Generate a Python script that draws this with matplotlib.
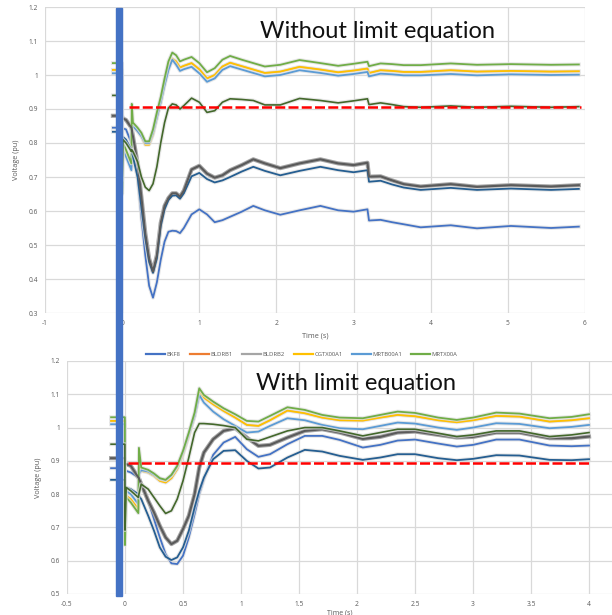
import numpy as np
import matplotlib
matplotlib.use("Agg")
import matplotlib.pyplot as plt
import matplotlib.patheffects as pe
from matplotlib.patches import Rectangle
from matplotlib.lines import Line2D
from matplotlib.ticker import FuncFormatter, MultipleLocator

plt.rcParams['font.family'] = ['Open Sans', 'DejaVu Sans']

# ---- top chart: without limit equation ----
t_top = [-0.12, -0.001, 0.0, 0.01, 0.05, 0.12, 0.125, 0.14, 0.2, 0.25, 0.3, 0.35, 0.4, 0.45,
         0.5, 0.55, 0.6, 0.65, 0.7, 0.75, 0.8, 0.9, 1.0, 1.1, 1.2, 1.3, 1.4, 1.55, 1.7, 1.85,
         2.05, 2.3, 2.57, 2.8, 3.0, 3.18, 3.2, 3.35, 3.5, 3.65, 3.87, 4.26, 4.6, 5.04, 5.56, 5.92]

top_mrtx00a = [1.035, 1.035, 0.65, 0.80, 0.78, 0.74, 0.915, 0.86, 0.845, 0.83, 0.805, 0.805, 0.84, 0.89,
               0.935, 0.99, 1.04, 1.066, 1.058, 1.04, 1.045, 1.053, 1.035, 1.008, 1.02, 1.045, 1.056, 1.045, 1.035, 1.025,
               1.03, 1.044, 1.035, 1.027, 1.033, 1.039, 1.026, 1.034, 1.032, 1.029, 1.029, 1.034, 1.030, 1.032, 1.030, 1.031]
top_cgtx00a1 = [1.015, 1.015, 0.75, 0.79, 0.77, 0.73, 0.85, 0.85, 0.835, 0.82, 0.795, 0.795, 0.825, 0.875,
                0.92, 0.975, 1.02, 1.048, 1.04, 1.022, 1.027, 1.035, 1.017, 0.99, 1.0, 1.025, 1.036, 1.026, 1.016, 1.006,
                1.01, 1.024, 1.016, 1.008, 1.013, 1.019, 1.006, 1.014, 1.012, 1.009, 1.009, 1.014, 1.010, 1.012, 1.010, 1.011]
top_mrtb00a1 = [1.005, 1.005, 0.78, 0.78, 0.76, 0.72, 0.845, 0.85, 0.835, 0.82, 0.80, 0.80, 0.83, 0.875,
                0.92, 0.97, 1.015, 1.045, 1.03, 1.012, 1.017, 1.024, 1.005, 0.98, 0.99, 1.015, 1.026, 1.016, 1.006, 0.996,
                1.0, 1.014, 1.006, 0.998, 1.003, 1.009, 0.996, 1.004, 1.002, 0.999, 0.999, 1.003, 0.999, 1.002, 1.0, 1.001]
top_darkgreen = [0.94, 0.94, 0.69, 0.81, 0.80, 0.775, 0.78, 0.775, 0.745, 0.70, 0.67, 0.66, 0.68, 0.73,
                 0.80, 0.86, 0.903, 0.915, 0.912, 0.90, 0.91, 0.932, 0.92, 0.89, 0.895, 0.92, 0.93, 0.928, 0.925, 0.912,
                 0.912, 0.931, 0.925, 0.918, 0.924, 0.93, 0.913, 0.918, 0.913, 0.907, 0.905, 0.909, 0.905, 0.908, 0.905, 0.907]
top_darkgray = [0.88, 0.88, 0.875, 0.872, 0.868, 0.845, 0.84, 0.82, 0.741, 0.64, 0.535, 0.46, 0.422, 0.47,
                0.565, 0.615, 0.638, 0.652, 0.652, 0.642, 0.66, 0.722, 0.733, 0.71, 0.698, 0.705, 0.72, 0.735, 0.752, 0.74,
                0.726, 0.74, 0.752, 0.74, 0.735, 0.742, 0.701, 0.702, 0.69, 0.679, 0.672, 0.679, 0.671, 0.676, 0.672, 0.676]
top_darkblue = [0.833, 0.833, 0.82, 0.818, 0.81, 0.78, 0.775, 0.76, 0.70, 0.61, 0.52, 0.45, 0.418, 0.46,
                0.555, 0.605, 0.632, 0.645, 0.646, 0.636, 0.652, 0.702, 0.712, 0.694, 0.684, 0.69, 0.70, 0.716, 0.73, 0.718,
                0.705, 0.718, 0.73, 0.72, 0.714, 0.72, 0.686, 0.689, 0.678, 0.669, 0.662, 0.668, 0.662, 0.666, 0.662, 0.665]
top_bkf8 = [0.845, 0.845, 0.845, 0.843, 0.84, 0.80, 0.795, 0.775, 0.70, 0.58, 0.47, 0.38, 0.345, 0.39,
            0.456, 0.51, 0.539, 0.542, 0.541, 0.535, 0.55, 0.59, 0.605, 0.59, 0.567, 0.573, 0.583, 0.598, 0.615, 0.602,
            0.589, 0.602, 0.615, 0.602, 0.598, 0.605, 0.572, 0.574, 0.567, 0.561, 0.552, 0.558, 0.549, 0.556, 0.550, 0.554]
top_limit_t = [0.09, 5.95]
top_limit_v = [0.905, 0.905]

# ---- bottom chart: with limit equation ----
t_bot = [-0.12, -0.001, 0.0, 0.01, 0.05, 0.115, 0.12, 0.14, 0.2, 0.25, 0.3, 0.35, 0.4, 0.45, 0.5,
         0.55, 0.6, 0.64, 0.68, 0.76, 0.85, 0.95, 1.05, 1.15, 1.25, 1.4, 1.55, 1.7, 1.85, 2.05,
         2.2, 2.35, 2.5, 2.7, 2.86, 3.0, 3.2, 3.4, 3.66, 3.85, 4.0]

bot_mrtx00a = [1.031, 1.031, 0.647, 0.79, 0.775, 0.743, 0.939, 0.88, 0.873, 0.862, 0.848, 0.843, 0.858, 0.885, 0.93,
               0.985, 1.045, 1.118, 1.098, 1.078, 1.058, 1.04, 1.02, 1.018, 1.035, 1.061, 1.053, 1.038, 1.03, 1.028,
               1.038, 1.048, 1.044, 1.03, 1.023, 1.03, 1.045, 1.042, 1.028, 1.032, 1.04]
bot_cgtx00a1 = [1.02, 1.02, 0.80, 0.795, 0.785, 0.755, 0.88, 0.87, 0.865, 0.855, 0.84, 0.835, 0.848, 0.875, 0.92,
                0.975, 1.035, 1.105, 1.09, 1.07, 1.05, 1.03, 1.008, 1.005, 1.022, 1.051, 1.043, 1.03, 1.022, 1.021,
                1.03, 1.038, 1.034, 1.022, 1.016, 1.022, 1.035, 1.033, 1.018, 1.022, 1.028]
bot_mrtb00a1 = [1.01, 1.01, 0.80, 0.81, 0.80, 0.77, 0.86, 0.872, 0.868, 0.858, 0.846, 0.842, 0.856, 0.882, 0.925,
                0.98, 1.035, 1.098, 1.075, 1.048, 1.025, 1.005, 0.985, 0.988, 1.005, 1.028, 1.022, 1.008, 0.998, 0.995,
                1.005, 1.015, 1.012, 1.0, 0.993, 1.0, 1.013, 1.011, 0.998, 1.002, 1.008]
bot_darkgreen = [0.95, 0.95, 0.692, 0.82, 0.81, 0.79, 0.80, 0.83, 0.815, 0.79, 0.765, 0.742, 0.75, 0.785, 0.84,
                 0.91, 0.985, 1.012, 1.012, 1.01, 1.006, 1.0, 0.965, 0.96, 0.972, 0.99, 1.0, 1.0, 0.99, 0.975,
                 0.985, 0.995, 0.995, 0.983, 0.973, 0.978, 0.99, 0.99, 0.973, 0.978, 0.985]
bot_darkgray = [0.908, 0.908, 0.89, 0.89, 0.885, 0.85, 0.848, 0.83, 0.78, 0.745, 0.705, 0.67, 0.65, 0.66, 0.695,
                0.735, 0.80, 0.88, 0.925, 0.965, 0.99, 0.998, 0.97, 0.945, 0.948, 0.97, 0.99, 0.995, 0.985, 0.966,
                0.972, 0.985, 0.988, 0.978, 0.97, 0.972, 0.985, 0.985, 0.968, 0.968, 0.973]
bot_bkf8 = [0.878, 0.878, 0.87, 0.87, 0.865, 0.85, 0.848, 0.83, 0.78, 0.725, 0.67, 0.62, 0.592, 0.59, 0.615,
            0.67, 0.74, 0.80, 0.845, 0.918, 0.955, 0.972, 0.935, 0.912, 0.92, 0.95, 0.975, 0.975, 0.963, 0.94,
            0.948, 0.961, 0.964, 0.952, 0.943, 0.948, 0.964, 0.964, 0.946, 0.944, 0.946]
bot_steel = [0.843, 0.843, 0.82, 0.82, 0.815, 0.80, 0.795, 0.785, 0.735, 0.69, 0.64, 0.612, 0.602, 0.61, 0.64,
             0.69, 0.76, 0.81, 0.85, 0.905, 0.93, 0.932, 0.9, 0.877, 0.88, 0.91, 0.933, 0.928, 0.915, 0.903,
             0.91, 0.92, 0.92, 0.908, 0.902, 0.906, 0.917, 0.916, 0.903, 0.902, 0.905]
bot_limit_t = [0.03, 4.0]
bot_limit_v = [0.894, 0.894]

names = ["BKF8", "BLDRB1", "BLDRB2", "CGTX00A1", "MRTB00A1", "MRTX00A"]
colors = ["#4472C4", "#ED7D31", "#A5A5A5", "#FFC000", "#5B9BD5", "#70AD47"]
grid_c = "#D9D9D9"
text_c = "#595959"

halo = [pe.Stroke(linewidth=2.8, foreground="#dddddd", alpha=0.7), pe.Normal()]


def fmt(v, pos):
    return "%g" % round(v, 2)


def style(ax, xmin, xmax, xstep, ymin, ymax):
    ax.set_xlim(xmin, xmax)
    ax.set_ylim(ymin, ymax)
    ax.xaxis.set_major_locator(MultipleLocator(xstep))
    ax.yaxis.set_major_locator(MultipleLocator(0.1))
    ax.xaxis.set_major_formatter(FuncFormatter(fmt))
    ax.yaxis.set_major_formatter(FuncFormatter(fmt))
    ax.grid(True, color=grid_c, lw=0.9)
    ax.set_axisbelow(True)
    for s in ax.spines.values():
        s.set_visible(False)
    ax.tick_params(length=0, labelsize=4.8, colors=text_c, pad=5)
    ax.set_xlabel("Time (s)", fontsize=5.2, color=text_c, labelpad=4)
    ax.set_ylabel("Voltage (pu)", fontsize=5.2, color=text_c, labelpad=6)


def draw(ax, t, bkf8, cgtx, mrtb, mrtx, dgreen, dgray, dblue, lim_t, lim_v):
    ax.plot(t, bkf8, color=colors[0], lw=1.3, path_effects=halo)
    ax.plot(t, cgtx, color=colors[1], lw=1.3)  # BLDRB1 lies under CGTX00A1
    ax.plot(t, dgray, color=colors[2], lw=3.0)
    ax.plot(t, cgtx, color=colors[3], lw=1.3, path_effects=halo)
    ax.plot(t, mrtb, color=colors[4], lw=1.3, path_effects=halo)
    ax.plot(t, mrtx, color=colors[5], lw=1.3, path_effects=halo)
    ax.plot(t, dblue, color="#255E91", lw=1.3, path_effects=halo)
    ax.plot(t, dgray, color="#5A5A5A", lw=1.5)
    ax.plot(t, dgreen, color="#43682B", lw=1.2, path_effects=halo)
    ax.plot(lim_t, lim_v, color="#FF0000", lw=1.8, dashes=(4, 1.3))


fig = plt.figure(figsize=(6.12, 6.15), dpi=100)

ax1 = fig.add_axes([45 / 612, 1 - 313 / 615, 540 / 612, 306 / 615])
style(ax1, -1, 6, 1, 0.3, 1.2)
draw(ax1, t_top, top_bkf8, top_cgtx00a1, top_mrtb00a1, top_mrtx00a,
     top_darkgreen, top_darkgray, top_darkblue, top_limit_t, top_limit_v)
fig.text(378 / 612, 1 - 32 / 615, "Without limit equation", family=["Lato", "DejaVu Sans"],
         ha="center", va="center", fontsize=17, color="#111111")

ax2 = fig.add_axes([67 / 612, 1 - 594 / 615, 545 / 612, 233 / 615])
style(ax2, -0.5, 4.198, 0.5, 0.5, 1.2)
ax2.set_xticks(np.arange(-0.5, 4.01, 0.5))
draw(ax2, t_bot, bot_bkf8, bot_cgtx00a1, bot_mrtb00a1, bot_mrtx00a,
     bot_darkgreen, bot_darkgray, bot_steel, bot_limit_t, bot_limit_v)
fig.text(356 / 612, 1 - 383 / 615, "With limit equation", family=["Lato", "DejaVu Sans"],
         ha="center", va="center", fontsize=17, color="#111111")
ax2.set_xlabel("Time (s)", fontsize=5, color=text_c, labelpad=1)

# legend of the top chart (only the first six series are listed)
handles = [Line2D([], [], color=c, lw=1.6) for c in colors]
fig.legend(handles, names, loc="center", bbox_to_anchor=(302 / 612, 1 - 354 / 615),
           ncol=6, fontsize=4.2, frameon=False, handlelength=3.2, handletextpad=0.3,
           columnspacing=1.6, labelcolor=text_c)

# thick blue marker bar drawn across both panels
fig.add_artist(Rectangle((116 / 612, 1 - 596 / 615), 6 / 612, 588 / 615,
                         transform=fig.transFigure, color="#4472C4", zorder=10))

fig.savefig("out.png", dpi=100)
